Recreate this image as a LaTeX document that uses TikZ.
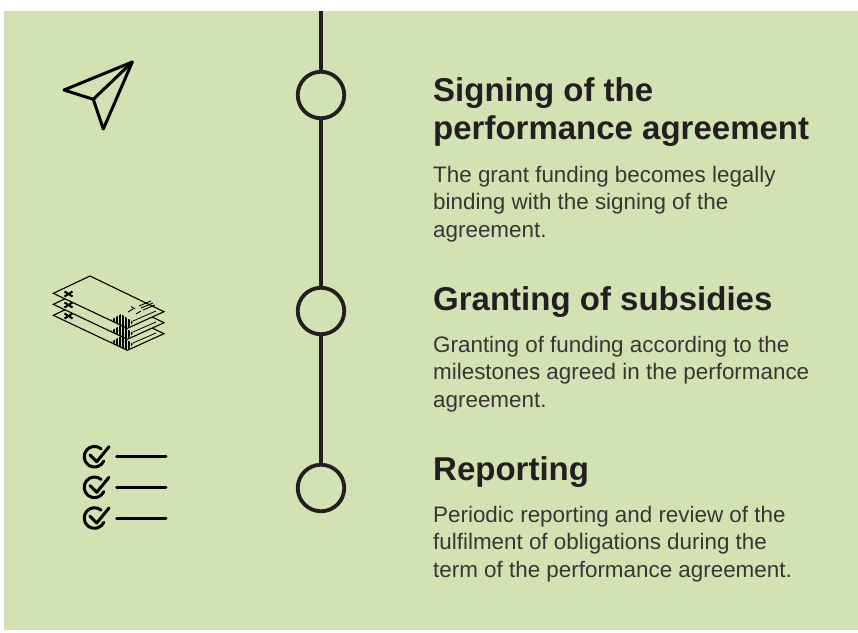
\documentclass[tikz,border=0pt]{standalone}
\usepackage{fontspec}
\setmainfont{Liberation Sans}
\definecolor{panelgreen}{HTML}{D3E2B3}
\definecolor{inkdark}{HTML}{231F20}
\tikzset{
    milestone/.style = {circle, draw=inkdark, line width=3.8pt, minimum size=46.5pt, inner sep=0pt},
    timeline/.style = {draw=inkdark, line width=3.6pt},
    heading/.style = {anchor=north west, align=left, inner sep=0pt, text=inkdark, font=\fontsize{33}{38}\selectfont\bfseries},
    bodytext/.style = {anchor=north west, align=left, inner sep=0pt, text=inkdark!90, font=\fontsize{22.4}{27.5}\selectfont},
    iconline/.style = {line width=3pt, line cap=round, line join=round, black},
    sheet/.style = {draw=black, fill=panelgreen, line width=1.1pt, line join=miter}
}
\newcommand{\notesheet}[1]{
    \begin{scope}[yshift=#1]
    \draw[sheet] (90,276) -- (164,311.7) -- (127.3,328.3) -- (53.3,293.3) -- cycle;
    \draw[black, line width=2pt] (64.5,291.5) -- (72.5,296.5) (64.5,296.5) -- (72.5,291.5);
    \begin{scope}
    \clip (111,320) -- (121,314) -- (133.3,322) -- (127.3,328.3) -- cycle;
    \foreach \hx in {110,111.5,...,134} {
        \draw[black, line width=.6pt] (\hx,313) -- (\hx,329);
    }
    \end{scope}
    \draw[black, line width=.8pt] (133,321) -- (156,311);
    \end{scope}
}
\begin{document}
\begin{tikzpicture}[x=1pt, y=-1pt]
    \useasboundingbox (0,0) rectangle (858,632);
    \fill[panelgreen] (4,11) rectangle (858,630);

    % timeline
    \coordinate (top) at (321,11);
    \node[milestone] (signing) at (321,95) {};
    \node[milestone] (granting) at (321,311) {};
    \node[milestone] (reporting) at (321,488) {};
    \draw[timeline] (top) -- (signing);
    \draw[timeline] (signing) -- (granting);
    \draw[timeline] (granting) -- (reporting);

    % paper plane
    \draw[iconline] (132.3,62) -- (64,90) -- (93.3,99.3) -- (103.3,129) -- cycle;
    \draw[iconline] (93.3,99.3) -- (132.3,62);

    % banknotes
    \notesheet{-22pt}
    \notesheet{-11pt}
    \notesheet{0pt}
    \draw[black, line width=.9pt] (128,312) -- (133,309) (136,314) -- (141,311) (131,306.5) -- (135,309)
        (139,306) -- (151,301) (141,308) -- (153,303) (143,310) -- (155,305);

    % checklist
    \foreach \cy in {456.7,487.3,518} {
        \draw[iconline] (101.1,\cy-7.9) arc (310:25:10.3);
        \draw[iconline] (90,\cy-1.7) -- (96.7,\cy+5) -- (109,\cy-10);
        \draw[iconline] (116.7,\cy) -- (166,\cy);
    }

    % texts
    \node[heading] (signinghead) at (433,77) {Signing of the\\performance agreement};
    \node[bodytext] (signingbody) at (433,166) {The grant funding becomes legally\\binding with the signing of the\\agreement.};
    \node[heading] (grantinghead) at (433,286) {Granting of subsidies};
    \node[bodytext] (grantingbody) at (433,336) {Granting of funding according to the\\milestones agreed in the performance\\agreement.};
    \node[heading] (reportinghead) at (433,456) {Reporting};
    \node[bodytext] (reportingbody) at (433,506) {Periodic reporting and review of the\\fulfilment of obligations during the\\term of the performance agreement.};
    \end{tikzpicture}
\end{document}
